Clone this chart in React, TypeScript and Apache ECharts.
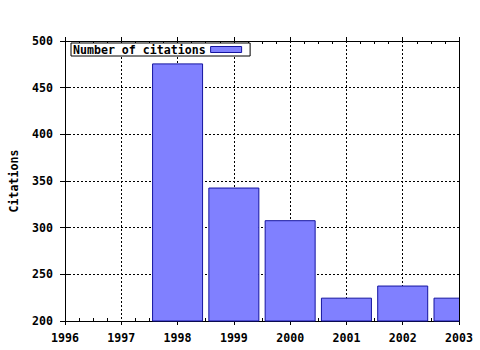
import React, { useEffect, useRef } from "react";
import * as echarts from "echarts";

const years: number[] = [1998, 1999, 2000, 2001, 2002, 2003];
const citations: number[] = [476, 343, 308, 225, 238, 225];
const xMin = 1996;
const xMax = 2003;
const yMin = 200;
const yMax = 500;
const yStep = 50;
const seriesName = "Number of citations";
const yTitle = "Citations";

const FONT = "DejaVu Sans Mono";
const FILL = "#8080ff";
const EDGE = "#1414a0";

export default function App() {
  const ref = useRef<HTMLDivElement>(null);
  useEffect(() => {
    if (!ref.current) return;
    const chart = echarts.init(ref.current, undefined, { renderer: "svg" });
    const grid = { left: 65, top: 41, right: 21, bottom: 29 };
    const txt = { fontFamily: FONT, fontWeight: "bold" as const, fontSize: 11.6, color: "#000" };
    const line = { show: true, onZero: false, lineStyle: { color: "#000", width: 1 } };
    const common = { type: "value" as const, min: xMin, max: xMax, interval: 1, gridIndex: 0 };
    chart.setOption({
      animation: false,
      backgroundColor: "#fff",
      grid,
      graphic: [
        {
          type: "rect",
          z: 50,
          shape: { x: 460, y: 40, width: 20, height: 282 },
          style: { fill: "#fff" },
        },
      ],
      legend: {
        left: 71,
        top: 43,
        align: "right",
        orient: "horizontal",
        backgroundColor: "#fff",
        borderColor: "#000",
        borderWidth: 1,
        borderRadius: 0,
        padding: [0, 8, 0, 2],
        itemWidth: 31,
        itemHeight: 6,
        icon: "rect",
        textStyle: { ...txt, lineHeight: 13 },
        data: [{ name: seriesName, itemStyle: { color: FILL, borderColor: EDGE, borderWidth: 1 } }],
      },
      xAxis: [
        {
          ...common,
          position: "bottom",
          axisLine: line,
          axisTick: { show: true, inside: false, length: 4, lineStyle: { color: "#000" } },
          axisLabel: { ...txt, margin: 11, formatter: (v: number) => String(v) },
          splitLine: { show: true, lineStyle: { color: "#000", type: [2, 2], width: 1 } },
        },
        {
          ...common,
          position: "bottom",
          axisLine: { show: false },
          axisTick: { show: false, inside: true },
          axisLabel: { show: false },
          splitLine: { show: false },
          minorTick: { show: true, splitNumber: 4, length: 3, lineStyle: { color: "#000", width: 1 } },
        },
        {
          ...common,
          position: "top",
          axisLine: line,
          axisTick: { show: true, inside: false, length: 4, lineStyle: { color: "#000" } },
          axisLabel: { show: false },
          splitLine: { show: false },
        },
        {
          ...common,
          position: "top",
          axisLine: { show: false },
          axisTick: { show: false, inside: true },
          axisLabel: { show: false },
          splitLine: { show: false },
          minorTick: { show: true, splitNumber: 4, length: 3, lineStyle: { color: "#000", width: 1 } },
        },
      ],
      yAxis: [
        {
          type: "value",
          min: yMin,
          max: yMax,
          interval: yStep,
          position: "left",
          name: yTitle,
          nameLocation: "middle",
          nameGap: 45,
          nameRotate: 90,
          nameTextStyle: txt,
          axisLine: line,
          axisTick: { show: true, inside: false, length: 5, lineStyle: { color: "#000" } },
          axisLabel: { ...txt, margin: 12 },
          splitLine: { show: true, lineStyle: { color: "#000", type: [2, 2], width: 1 } },
        },
        {
          type: "value",
          min: yMin,
          max: yMax,
          interval: yStep,
          position: "left",
          axisLine: { show: false },
          axisTick: { show: true, inside: true, length: 5, lineStyle: { color: "#000" } },
          axisLabel: { show: false },
          splitLine: { show: false },
        },
        {
          type: "value",
          min: yMin,
          max: yMax,
          interval: yStep,
          position: "right",
          z: 60,
          axisLine: line,
          axisTick: { show: false },
          axisLabel: { show: false },
          splitLine: { show: false },
        },
      ],
      series: [
        {
          name: seriesName,
          type: "bar",
          xAxisIndex: 0,
          yAxisIndex: 0,
          barWidth: 51,
          clip: true,
          itemStyle: { color: FILL, borderColor: EDGE, borderWidth: 1 },
          data: years.map((y, i) => [y, citations[i]]),
        },
      ],
    });
    return () => chart.dispose();
  }, []);
  return <div ref={ref} style={{ width: 480, height: 350, position: "absolute", left: 0, top: 0 }} />;
}
